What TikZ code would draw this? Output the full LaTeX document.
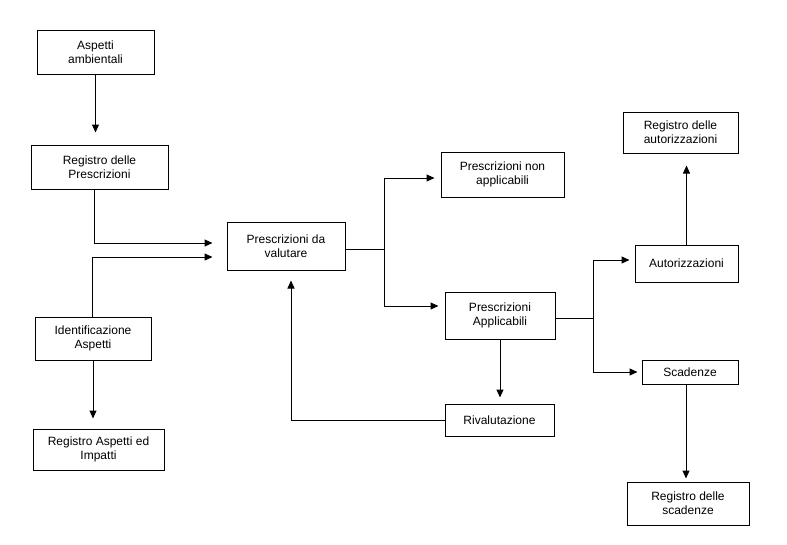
\documentclass[tikz,border=0pt]{standalone}
\usepackage{fontspec}
\setmainfont{Liberation Sans}
\usetikzlibrary{arrows.meta}
\begin{document}
\begin{tikzpicture}[x=1pt,y=-1pt,
  box/.style={draw, line width=1pt, align=center, inner sep=0pt,
    font=\fontsize{12}{14}\selectfont},
  arr/.style={line width=1pt, -{Triangle[length=8pt,width=7pt]}},
  ln/.style={line width=1pt}]
\fill[white] (0,0) rectangle (787,544);
\useasboundingbox (0,0) rectangle (787,544);
\node[box, minimum width=117pt, minimum height=44pt] (asp) at (95.5,52) {Aspetti\\ambientali};
\node[box, minimum width=137pt, minimum height=44pt] (regp) at (99.5,167) {Registro delle\\Prescrizioni};
\node[box, minimum width=116pt, minimum height=43pt] (ident) at (93,338.5) {Identificazione\\Aspetti};
\node[box, minimum width=131pt, minimum height=41pt] (rega) at (98.5,449.5) {Registro Aspetti ed\\Impatti};
\node[box, minimum width=118pt, minimum height=48pt] (pdv) at (286,246) {Prescrizioni da\\valutare};
\node[box, minimum width=123pt, minimum height=45pt] (pna) at (502.5,174.5) {Prescrizioni non\\applicabili};
\node[box, minimum width=110pt, minimum height=47pt] (pa) at (500,315.5) {Prescrizioni\\Applicabili};
\node[box, minimum width=109pt, minimum height=32pt] (riv) at (499.5,420) {Rivalutazione};
\node[box, minimum width=115pt, minimum height=41pt] (rauth) at (680.5,132.5) {Registro delle\\autorizzazioni};
\node[box, minimum width=103pt, minimum height=37pt] (auth) at (686.5,263.5) {Autorizzazioni};
\node[box, minimum width=96pt, minimum height=24pt] (scad) at (690,372) {Scadenze};
\node[box, minimum width=122pt, minimum height=43pt] (regs) at (688,503.5) {Registro delle\\scadenze};
\coordinate (j1) at (384,249);
\coordinate (j2) at (593,318);
\draw[arr, shorten >=12pt] (asp.south) -- (asp.south |- regp.north);
\draw[arr, shorten >=14pt] ([xshift=-5.5pt]regp.south) |- ([yshift=3pt]pdv.west);
\draw[arr, shorten >=14pt] ([xshift=-1pt]ident.north) |- ([yshift=-11pt]pdv.west);
\draw[arr, shorten >=10pt] (ident.south) -- (ident.south |- rega.north);
\draw[ln] ([yshift=-3pt]pdv.east) -- (j1);
\draw[arr, shorten >=6pt] (j1) |- ([yshift=-3.5pt]pna.west);
\draw[arr, shorten >=6pt] (j1) |- ([yshift=9.5pt]pa.west);
\draw[arr, shorten >=6pt] (pa.south) -- (pa.south |- riv.north);
\draw[arr, shorten >=10pt] (riv.west) -| ([xshift=5pt]pdv.south);
\draw[ln] ([yshift=-2.5pt]pa.east) -- (j2);
\draw[arr, shorten >=5pt] (j2) |- ([yshift=3.5pt]auth.west);
\draw[arr, shorten >=4pt] (j2) |- (scad.west);
\draw[arr, shorten >=12pt] (auth.north) -- (auth.north |- rauth.south);
\draw[arr, shorten >=3pt] ([xshift=-4pt]scad.south) -- ([xshift=-4pt]scad.south |- regs.north);
\end{tikzpicture}
\end{document}
